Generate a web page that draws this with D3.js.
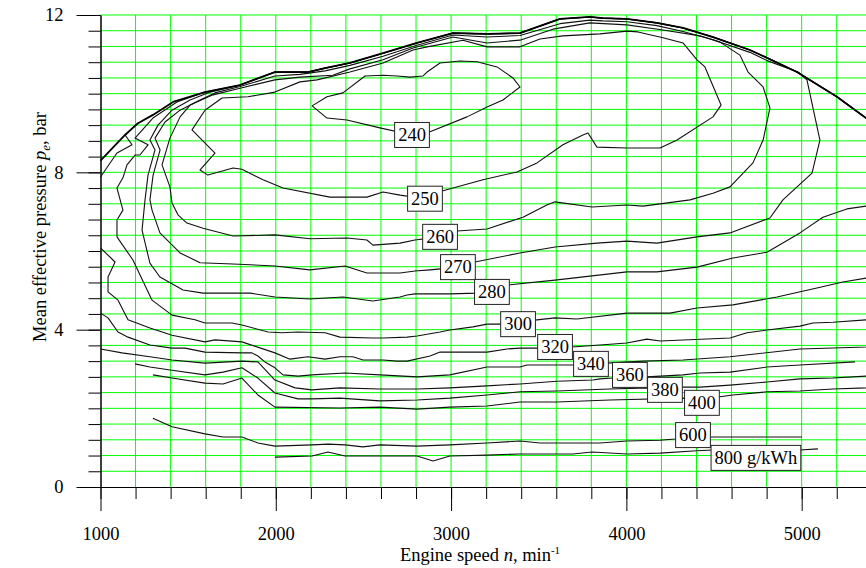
<!DOCTYPE html>
<html><head><meta charset="utf-8">
<script src="https://cdn.jsdelivr.net/npm/d3@7"></script>
<style>body{margin:0;background:#fff}svg{display:block}</style>
</head><body>
<svg id="c" width="866" height="568"></svg>
<script>
// ---------- DATA (engine speed rpm, mean effective pressure bar) ----------
const xMajorTicks = [1000, 2000, 3000, 4000, 5000];
const xMinorTicks = [1000,1200,1400,1600,1800,2000,2200,2400,2600,2800,3000,3200,3400,3600,3800,4000,4200,4400,4600,4800,5000,5200,5400];
const yMajorTicks = [0, 4, 8, 12];
const yMinorTicks = [0,0.4,0.8,1.2,1.6,2,2.4,2.8,3.2,3.6,4,4.4,4.8,5.2,5.6,6,6.4,6.8,7.2,7.6,8,8.4,8.8,9.2,9.6,10,10.4,10.8,11.2,11.6,12];
const xGrid = [1200,1400,1600,1800,2000,2200,2400,2600,2800,3000,3200,3400,3600,3800,4000,4200,4400,4600,4800,5000,5200];
const yGrid = [0.4,0.8,1.2,1.6,2,2.4,2.8,3.2,3.6,4,4.4,4.8,5.2,5.6,6,6.4,6.8,7.2,7.6,8,8.4,8.8,9.2,9.6,10,10.4,10.8,11.2,11.6,12];

const envelope = [[1000,8.3],[1140,8.95],[1214,9.25],[1299,9.46],[1414,9.79],[1596,10.04],[1653,10.09],[1796,10.22],[1995,10.55],[2184,10.55],[2281,10.65],[2423,10.78],[2612,11.03],[2805,11.29],[3011,11.54],[3204,11.52],[3393,11.54],[3621,11.90],[3792,11.95],[3866,11.92],[4003,11.90],[4174,11.80],[4323,11.67],[4494,11.44],[4705,11.11],[4802,10.91],[4973,10.55],[5201,9.92],[5367,9.38],[5400,9.28]];

const leftHook = [[1000,7.88],[1094,8.49],[1180,8.70],[1140,8.95],[1214,9.25]];

const c240 = [[2777,8.95],[2880,9.03],[3091,9.41],[3205,9.66],[3296,9.84],[3393,10.17],[3353,10.40],[3262,10.68],[3148,10.81],[3051,10.83],[2937,10.78],[2863,10.55],[2840,10.45],[2766,10.42],[2691,10.45],[2612,10.47],[2509,10.45],[2383,10.02],[2292,9.92],[2207,9.69],[2292,9.38],[2406,9.33],[2594,9.13],[2777,8.95]];

const c250 = [[2851,7.33],[2954,7.53],[3182,7.81],[3376,8.01],[3490,8.24],[3638,8.70],[3752,8.95],[3781,9.00],[3832,8.64],[4003,8.62],[4192,8.62],[4289,8.82],[4494,9.41],[4540,9.71],[4448,10.68],[4403,10.86],[4323,11.29],[4209,11.42],[4066,11.57],[4003,11.59],[3849,11.52],[3638,11.47],[3507,11.39],[3393,11.19],[3205,11.19],[3068,11.36],[2863,11.19],[2783,11.11],[2612,10.78],[2423,10.55],[2235,10.35],[2138,10.30],[1995,10.04],[1841,9.92],[1693,9.89],[1596,9.58],[1522,9.08],[1653,8.49],[1568,8.06],[1613,7.93],[1756,8.11],[1807,8.08],[1927,7.81],[2041,7.60],[2309,7.37],[2520,7.37],[2612,7.50],[2709,7.42],[2851,7.33]];

const c260 = [[2937,6.36],[2794,6.28],[2709,6.20],[2554,6.15],[2520,6.28],[2406,6.33],[2195,6.31],[1995,6.41],[1756,6.38],[1585,6.58],[1493,6.71],[1442,6.92],[1408,7.22],[1396,7.63],[1351,8.19],[1396,8.87],[1454,9.41],[1511,9.71],[1642,9.97],[1796,10.14],[1995,10.35],[2138,10.42],[2326,10.47],[2423,10.63],[2612,10.86],[2783,11.16],[3011,11.44],[3205,11.29],[3393,11.36],[3581,11.64],[3792,11.80],[4003,11.75],[4209,11.62],[4420,11.47],[4534,11.31],[4648,10.98],[4694,10.55],[4780,10.17],[4819,9.64],[4780,8.82],[4722,8.24],[4591,7.63],[4494,7.47],[4363,7.30],[4095,7.14],[4003,7.17],[3804,7.12],[3593,7.25],[3546,7.17],[3410,6.86],[3205,6.56],[3034,6.51],[2937,6.36]];

const c270 = [[3039,5.59],[2880,5.52],[2794,5.49],[2709,5.44],[2520,5.44],[2395,5.62],[2195,5.52],[1995,5.62],[1756,5.67],[1568,5.70],[1454,5.95],[1339,6.46],[1294,7.04],[1282,7.30],[1300,7.93],[1340,8.57],[1311,8.87],[1368,9.28],[1454,9.58],[1568,9.84],[1653,10.02],[1796,10.18],[1995,10.45],[2138,10.49],[2281,10.58],[2423,10.72],[2612,10.95],[2805,11.23],[3011,11.49],[3205,11.44],[3393,11.48],[3621,11.78],[3792,11.87],[3866,11.85],[4003,11.83],[4174,11.73],[4323,11.58],[4494,11.37],[4705,11.05],[4802,10.84],[4979,10.55],[5030,10.35],[5104,8.82],[5059,7.98],[4893,7.30],[4819,6.84],[4591,6.46],[4403,6.36],[4174,6.20],[4003,6.25],[3832,6.20],[3593,6.10],[3393,5.95],[3136,5.72],[3039,5.59]];

const c280 = [[5400,7.2],[5367,7.14],[5258,7.07],[5121,6.86],[4990,6.46],[4802,5.97],[4608,5.82],[4403,5.59],[4174,5.47],[4003,5.47],[3593,5.26],[3336,5.14],[3233,4.96],[3147,4.93],[2993,4.91],[2794,4.91],[2749,4.88],[2709,4.83],[2554,4.73],[2383,4.83],[2195,4.78],[1995,4.83],[1853,4.93],[1585,4.93],[1471,5.01],[1339,5.34],[1282,5.69],[1237,6.53],[1254,7.30],[1271,7.93],[1311,8.57],[1282,8.82],[1328,9.20],[1408,9.58],[1511,9.84],[1625,10.04]];

const c300 = [[5400,5.33],[5367,5.31],[5235,5.21],[5087,5.06],[4859,4.83],[4608,4.63],[4403,4.55],[4249,4.42],[4003,4.42],[3718,4.27],[3593,4.30],[3490,4.25],[3382,4.14],[3205,4.14],[3125,4.07],[2993,3.99],[2937,3.94],[2806,3.84],[2749,3.81],[2612,3.79],[2554,3.79],[2366,3.81],[2281,3.92],[2127,3.94],[2035,3.92],[1956,3.94],[1807,4.12],[1750,4.17],[1596,4.17],[1539,4.25],[1408,4.37],[1294,4.75],[1185,5.77],[1094,6.36],[1094,6.79],[1128,7.04],[1094,7.60],[1128,7.86],[1151,8.19],[1197,8.44],[1225,8.44],[1271,8.70],[1197,8.87],[1299,9.38],[1436,9.79],[1596,10.04]];

const c320 = [[5400,4.26],[5367,4.25],[5178,4.19],[5064,4.17],[4990,4.09],[4802,3.99],[4688,3.92],[4591,3.79],[4192,3.71],[4117,3.76],[4003,3.66],[3849,3.61],[3690,3.56],[3593,3.56],[3496,3.53],[3393,3.53],[3319,3.51],[3205,3.43],[2937,3.43],[2880,3.33],[2749,3.20],[2691,3.20],[2612,3.23],[2497,3.23],[2440,3.31],[2366,3.31],[2281,3.25],[2184,3.31],[2081,3.25],[1995,3.41],[1807,3.69],[1653,3.74],[1596,3.69],[1408,3.86],[1282,4.04],[1157,4.25],[1100,4.75],[1043,4.96],[1043,5.34],[1083,5.72],[1000,6.08]];

const c340 = [[5400,3.57],[5367,3.56],[4990,3.51],[4591,3.31],[4323,3.23],[4095,3.20],[3890,3.15],[3798,3.13],[3695,3.10],[3433,3.10],[3393,3.05],[3205,3.05],[2993,2.85],[2806,2.80],[2594,2.85],[2395,2.90],[2207,2.85],[2127,2.82],[2041,2.85],[1995,3.03],[1938,3.18],[1898,3.33],[1864,3.41],[1807,3.41],[1596,3.43],[1482,3.53],[1408,3.53],[1282,3.61],[1157,3.81],[1100,3.94],[1043,4.30],[1000,4.42]];

const c360 = [[5304,3.18],[4990,3.10],[4802,3.05],[4591,2.92],[4420,2.90],[4323,2.85],[4117,2.80],[4020,2.85],[3923,2.77],[3849,2.75],[3809,2.72],[3604,2.69],[3393,2.62],[3205,2.57],[2993,2.52],[2806,2.49],[2594,2.49],[2366,2.52],[2207,2.47],[2110,2.52],[1995,2.72],[1898,3.18],[1807,3.20],[1596,3.15],[1408,3.23],[1282,3.31],[1123,3.41],[1000,3.51]];

const c380 = [[5400,2.83],[5367,2.82],[5178,2.77],[4990,2.75],[4802,2.67],[4591,2.59],[4420,2.54],[4317,2.54],[4220,2.47],[4129,2.52],[3906,2.49],[3604,2.44],[3393,2.42],[3205,2.34],[2993,2.26],[2806,2.21],[2594,2.19],[2366,2.26],[2207,2.24],[2127,2.24],[1995,2.39],[1898,2.77],[1807,3.03],[1699,2.92],[1596,2.85],[1408,2.97],[1282,3.05],[1197,3.13]];

const c400 = [[5400,2.53],[5367,2.52],[5178,2.49],[4990,2.44],[4802,2.42],[4608,2.34],[4523,2.29],[4431,2.14],[4340,2.26],[3906,2.21],[3604,2.16],[3393,2.16],[3205,2.06],[2993,2.03],[2806,1.98],[2594,2.03],[2366,2.01],[1995,2.03],[1898,2.34],[1807,2.77],[1699,2.62],[1596,2.64],[1408,2.77],[1299,2.85]];

const c600 = [[5002,1.27],[4802,1.27],[4471,1.27],[4380,1.32],[4277,1.22],[4192,1.19],[4003,1.17],[3849,1.12],[3507,1.12],[3393,1.17],[3205,1.12],[2993,1.07],[2806,1.04],[2594,1.07],[2497,1.02],[2395,1.07],[2298,1.09],[2207,1.07],[1995,1.04],[1898,1.12],[1807,1.27],[1699,1.27],[1596,1.35],[1408,1.53],[1299,1.75]];

const c800 = [[1995,0.76],[2207,0.79],[2298,0.89],[2395,0.79],[2550,0.79],[2806,0.79],[2897,0.66],[2993,0.79],[3205,0.81],[3393,0.84],[3695,0.84],[3804,0.89],[4003,0.84],[4192,0.86],[4403,0.92],[4494,0.94],[4739,0.94],[4990,0.94],[5093,0.97]];

const labelTexts = ["240","250","260","270","280","300","320","340","360","380","400","600","800 g/kWh"];
const labelX = [2777,2851,2937,3039,3233,3382,3593,3798,4020,4220,4431,4380,4739];
const labelY = [8.95,7.33,6.36,5.59,4.96,4.14,3.56,3.13,2.85,2.47,2.14,1.32,0.74];

// ---------- CHART ----------
const W = 866, H = 568;
const FONT = "'Liberation Serif','Times New Roman',Times,serif";
const x = d3.scaleLinear().domain([1000, 5400]).range([100.5, 871.8]);
const y = d3.scaleLinear().domain([0, 12]).range([487, 15]);
const svg = d3.select("#c");

// grid
const grid = svg.append("g").attr("stroke", "#00ff00").attr("stroke-width", 1);
grid.selectAll("line.v").data(xGrid).join("line").attr("class","v")
  .attr("x1", d => x(d)).attr("x2", d => x(d)).attr("y1", y(12)).attr("y2", y(0));
grid.selectAll("line.h").data(yGrid).join("line").attr("class","h")
  .attr("x1", x(1000)).attr("x2", W).attr("y1", d => y(d)).attr("y2", d => y(d));

// axes
function styleAxis(g){
  g.selectAll(".domain").attr("stroke","#000").attr("stroke-width",1);
  g.selectAll(".tick line").attr("stroke","#000").attr("stroke-width",1);
  g.selectAll("text").attr("font-family",FONT).attr("font-size","18.5px").attr("fill","#000");
}
svg.append("g").attr("transform",`translate(0,${y(0)})`)
  .call(d3.axisBottom(x).tickValues(xMinorTicks).tickSize(12).tickSizeOuter(0).tickFormat(""))
  .call(styleAxis);
svg.append("g").attr("transform",`translate(0,${y(0)})`)
  .call(d3.axisBottom(x).tickValues(xMajorTicks).tickSize(24).tickPadding(16).tickSizeOuter(0).tickFormat(d3.format("d")))
  .call(styleAxis);
svg.append("g").attr("transform",`translate(${x(1000)},0)`)
  .call(d3.axisLeft(y).tickValues(yMinorTicks).tickSize(12).tickSizeOuter(0).tickFormat(""))
  .call(styleAxis);
svg.append("g").attr("transform",`translate(${x(1000)},0)`)
  .call(d3.axisLeft(y).tickValues(yMajorTicks).tickSize(24).tickPadding(13).tickSizeOuter(0).tickFormat(d3.format("d")))
  .call(styleAxis);

// contour lines
const line = d3.line().x(d => x(d[0])).y(d => y(d[1]));
const curves = svg.append("g").attr("fill","none").attr("stroke","#111").attr("stroke-width",1.1).attr("stroke-linejoin","round");
const topFrom = (minX) => envelope.filter(d => d[0] >= minX);
const paths = [
  c240, c250, c260, c270,
  c280.concat(topFrom(1700).map(d => [d[0], d[1]])),
  c300.concat(topFrom(1650)),
  c320, c340, c360, c380, c400, c600, c800, leftHook
];
curves.selectAll("path.c").data(paths).join("path").attr("class","c").attr("d", line);
curves.append("path").datum(envelope).attr("d", line).attr("stroke-width", 1.8).attr("stroke","#000");

// labels
const lab = svg.append("g");
labelTexts.forEach((t, i) => {
  const g = lab.append("g").attr("transform", `translate(${x(labelX[i])},${y(labelY[i])})`);
  const rect = g.append("rect");
  const txt = g.append("text").text(t).attr("text-anchor","middle").attr("dy","0.34em")
    .attr("font-family",FONT).attr("font-size","18.5px").attr("fill","#000");
  const w = txt.node().getComputedTextLength() + 7;
  rect.attr("x", -w/2).attr("y", -12.5).attr("width", w).attr("height", 25)
    .attr("fill","#fff").attr("stroke","#222").attr("stroke-width",1);
});

// axis titles
const xt = svg.append("text").attr("x", 480).attr("y", 561).attr("text-anchor","middle")
  .attr("font-family",FONT).attr("font-size","18.5px").attr("fill","#000");
xt.append("tspan").text("Engine speed ");
xt.append("tspan").attr("font-style","italic").text("n");
xt.append("tspan").text(", min");
xt.append("tspan").attr("font-size","11px").attr("dy","-7").text("-1");

const yt = svg.append("text").attr("transform","translate(46,227) rotate(-90)").attr("text-anchor","middle")
  .attr("font-family",FONT).attr("font-size","18.5px").attr("fill","#000");
yt.append("tspan").text("Mean effective pressure ");
yt.append("tspan").attr("font-style","italic").text("p");
yt.append("tspan").attr("font-style","italic").attr("font-size","13px").attr("dy","4").text("e");
yt.append("tspan").attr("dy","-4").text(", bar");
</script>
</body></html>
